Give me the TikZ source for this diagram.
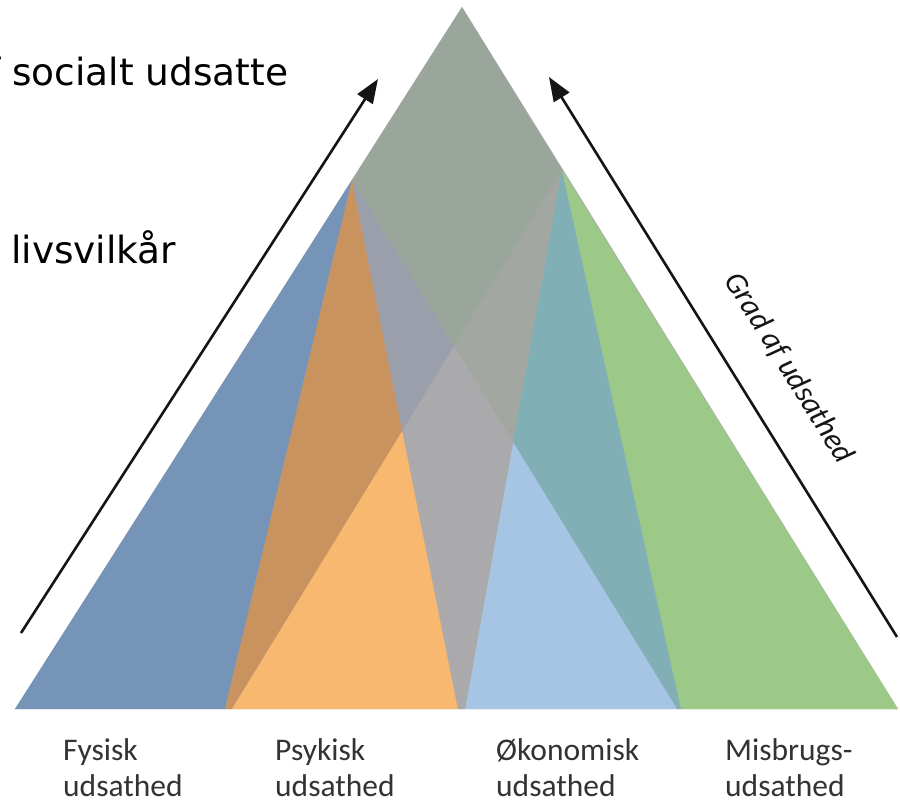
\documentclass[tikz,border=0pt]{standalone}
\usepackage{fontspec}
\newfontfamily\verdfont{DejaVu Sans}
\newfontfamily\calfont{Carlito}
\usetikzlibrary{arrows.meta}
\definecolor{cblue}{HTML}{7594B8}
\definecolor{cbrown}{HTML}{C8935F}
\definecolor{corange}{HTML}{F8B86F}
\definecolor{cgrayblue}{HTML}{9B9FAC}
\definecolor{ctop}{HTML}{9AA59B}
\definecolor{cgraygreen}{HTML}{A3A7A1}
\definecolor{cteal}{HTML}{80B0B6}
\definecolor{clightblue}{HTML}{A6C4E4}
\definecolor{cgreen}{HTML}{9CC987}
\definecolor{ccgray}{HTML}{AAAAAC}
\definecolor{arrowc}{HTML}{151515}
\definecolor{lblc}{HTML}{333333}
\begin{document}
\begin{tikzpicture}[x=1pt,y=-1pt,
  region/.style={draw=none},
  arr/.style={line width=2.6pt, draw=arrowc, -{Triangle[length=24pt,width=18pt]}},
  toptext/.style={font=\verdfont\fontsize{37.5}{42}\selectfont, anchor=base west, inner sep=0pt, text=black},
  lbltext/.style={font=\calfont\fontsize{31.5}{36}\selectfont, anchor=base west, inner sep=0pt, text=lblc},
  rottext/.style={font=\calfont\itshape\fontsize{31}{34}\selectfont, inner sep=0pt, text=arrowc, rotate=-58.1}
]
\useasboundingbox (0,0) rectangle (900,800);
\clip (0,0) rectangle (900,800);
\fill[white] (0,0) rectangle (900,800);

% key points
\coordinate (A) at (462,7);
\coordinate (BL) at (15,709);
\coordinate (BR) at (898,709);
\coordinate (L) at (352,180);
\coordinate (R) at (562,170);
\coordinate (b1) at (225,709);
\coordinate (b2) at (232,709);
\coordinate (b3) at (458,709);
\coordinate (b4) at (465,709);
\coordinate (b5) at (677,709);
\coordinate (b6) at (681,709);
\coordinate (P) at (intersection of b2--R and L--b3);
\coordinate (Pp) at (intersection of b5--L and b4--R);
\coordinate (Q) at (intersection of b2--R and b5--L);

% base fill to avoid seams
\fill[ccgray] (BL) -- (A) -- (BR) -- cycle;
% regions
\fill[region, cblue] (BL) -- (b1) -- (L) -- cycle;
\fill[region, cbrown] (b1) -- (b2) -- (P) -- (L) -- cycle;
\fill[region, corange] (b2) -- (b3) -- (P) -- cycle;
\fill[region, cgrayblue] (L) -- (P) -- (Q) -- cycle;
\fill[region, ctop] (A) -- (L) -- (Q) -- (R) -- cycle;
\fill[region, cgraygreen] (R) -- (Q) -- (Pp) -- cycle;
\fill[region, cteal] (R) -- (Pp) -- (b5) -- (b6) -- cycle;
\fill[region, clightblue] (b4) -- (b5) -- (Pp) -- cycle;
\fill[region, cgreen] (R) -- (b6) -- (BR) -- cycle;
\fill[region, ccgray] (P) -- (b3) -- (b4) -- (Pp) -- (Q) -- cycle;

% arrows
\coordinate (la1) at (21,633);
\coordinate (la2) at (378,79);
\coordinate (ra1) at (897,637);
\coordinate (ra2) at (549,77);
\draw[arr] (la1) -- (la2);
\draw[arr] (ra1) -- (ra2);

% texts
\node[toptext] (t1) at (-13,85) {f socialt udsatte};
\node[toptext] (t2) at (11,263) {livsvilkår};
\node[rottext] (grad) at (789,368) {Grad af udsathed};

\node[lbltext] (fys1) at (63,760) {Fysisk};
\node[lbltext] (fys2) at (63,796) {udsathed};
\node[lbltext] (psy1) at (275,760) {Psykisk};
\node[lbltext] (psy2) at (275,796) {udsathed};
\node[lbltext] (oko1) at (496,760) {Økonomisk};
\node[lbltext] (oko2) at (496,796) {udsathed};
\node[lbltext] (mis1) at (725,760) {Misbrugs-};
\node[lbltext] (mis2) at (725,796) {udsathed};
\end{tikzpicture}
\end{document}
